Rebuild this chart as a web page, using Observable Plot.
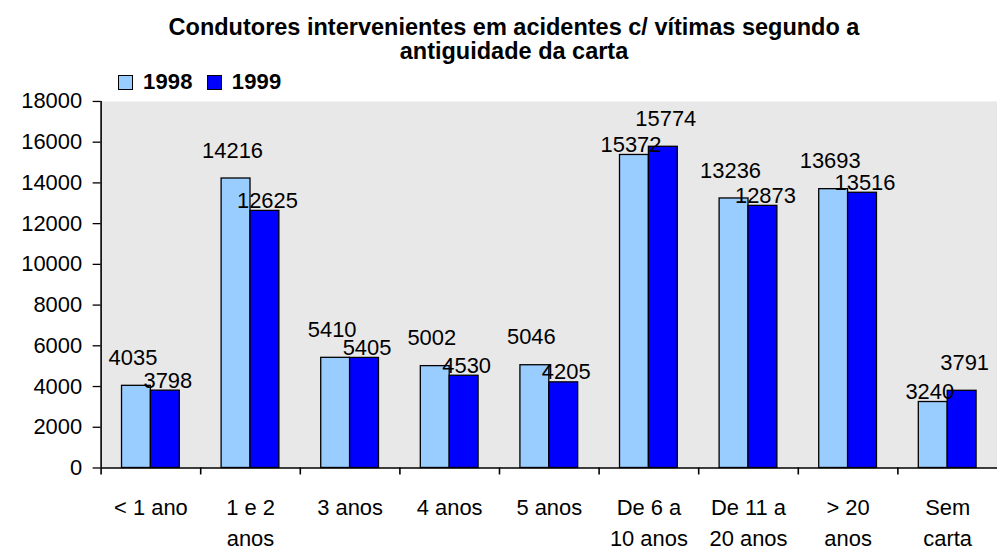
<!DOCTYPE html>
<html>
<head>
<meta charset="utf-8">
<script src="https://cdn.jsdelivr.net/npm/d3@7"></script>
<script src="https://cdn.jsdelivr.net/npm/@observablehq/plot@0.6"></script>
<style>
  html, body { margin: 0; padding: 0; background: #fff; overflow: hidden; }
  #wrap { position: relative; width: 997px; height: 550px; overflow: hidden;
          font-family: "Liberation Sans", Arial, sans-serif; color: #000; }
  #title { position: absolute; left: 0; top: 15px; width: 1028px; text-align: center;
           font-weight: bold; font-size: 23.5px; line-height: 24px; }
  #legend { position: absolute; left: 118px; top: 70px; height: 24px; display: flex;
            align-items: center; font-weight: bold; font-size: 22px; }
  #legend .sw { width: 13px; height: 13px; border: 1px solid #000; display: inline-block; }
  #legend .lab { margin-left: 10px; margin-right: 14px; letter-spacing: 0.2px; }
  #chart { position: absolute; left: 0; top: 90px; }
</style>
</head>
<body>
<div id="wrap">
  <div id="title">Condutores intervenientes em acidentes c/ vítimas segundo a<br>antiguidade da carta</div>
  <div id="legend"></div>
  <div id="chart"></div>
</div>
<script>
const categories = ["< 1 ano", "1 e 2\nanos", "3 anos", "4 anos", "5 anos", "De 6 a\n10 anos", "De 11 a\n20 anos", "> 20\nanos", "Sem\ncarta"];
const values1998 = [4035, 14216, 5410, 5002, 5046, 15372, 13236, 13693, 3240];
const values1999 = [3798, 12625, 5405, 4530, 4205, 15774, 12873, 13516, 3791];
const series = ["1998", "1999"];
const colors = ["#99CCFF", "#0000FF"];
const yTicks = [0, 2000, 4000, 6000, 8000, 10000, 12000, 14000, 16000, 18000];

const rows1998 = categories.map((c, i) => ({category: c, year: series[0], value: values1998[i], taller: values1998[i] >= values1999[i]}));
const rows1999 = categories.map((c, i) => ({category: c, year: series[1], value: values1999[i], taller: values1999[i] > values1998[i]}));

// legend
const legend = document.getElementById("legend");
series.forEach((s, i) => {
  const sw = document.createElement("span");
  sw.className = "sw";
  sw.style.background = colors[i];
  const lab = document.createElement("span");
  lab.className = "lab";
  lab.textContent = s;
  legend.appendChild(sw);
  legend.appendChild(lab);
});

const labelOpts = {x: "category", y: "value", text: d => `${d.value}`, fontSize: 22, letterSpacing: 1};

const chart = Plot.plot({
  width: 1001,
  height: 460,
  marginTop: 11,
  marginBottom: 81,
  marginLeft: 101,
  marginRight: 0,
  style: {fontFamily: "Liberation Sans, Arial, sans-serif", fontSize: "22px", color: "#000", background: "transparent", overflow: "visible"},
  x: {domain: categories, padding: 0, label: null},
  y: {domain: [0, 18000], label: null},
  marks: [
    Plot.frame({fill: "#E8E8E8", stroke: null}),
    Plot.barY(rows1998, {x: "category", y: "value", fill: colors[0], stroke: "#000", strokeWidth: 1.3, insetLeft: 21, insetRight: 50}),
    Plot.barY(rows1999, {x: "category", y: "value", fill: colors[1], stroke: "#000", strokeWidth: 1.3, insetLeft: 50, insetRight: 21}),
    Plot.ruleY([0], {stroke: "#000", strokeWidth: 1.6}),
    Plot.ruleX([categories[0]], {dx: -50, stroke: "#000", strokeWidth: 1.6}),
    Plot.ruleX(categories, {dx: -50, stroke: "#000", strokeWidth: 1.6, insetTop: 368, insetBottom: -7}),
    Plot.axisY({ticks: yTicks, tickSize: 8, tickPadding: 11, tickFormat: d => `${d}`, fontSize: 22, letterSpacing: 1, strokeWidth: 1.3, label: null}),
    Plot.axisX({tickSize: 0, tickPadding: 26, fontSize: 22, lineHeight: 1.38, letterSpacing: 0.9, label: null}),
    Plot.text(rows1998, {...labelOpts, filter: d => d.taller, dx: -18, dy: -28}),
    Plot.text(rows1998, {...labelOpts, filter: d => !d.taller, dx: -18, dy: -10}),
    Plot.text(rows1999, {...labelOpts, filter: d => d.taller, dx: 17, dy: -28}),
    Plot.text(rows1999, {...labelOpts, filter: d => !d.taller, dx: 17, dy: -10})
  ]
});
document.getElementById("chart").appendChild(chart);
</script>
</body>
</html>
